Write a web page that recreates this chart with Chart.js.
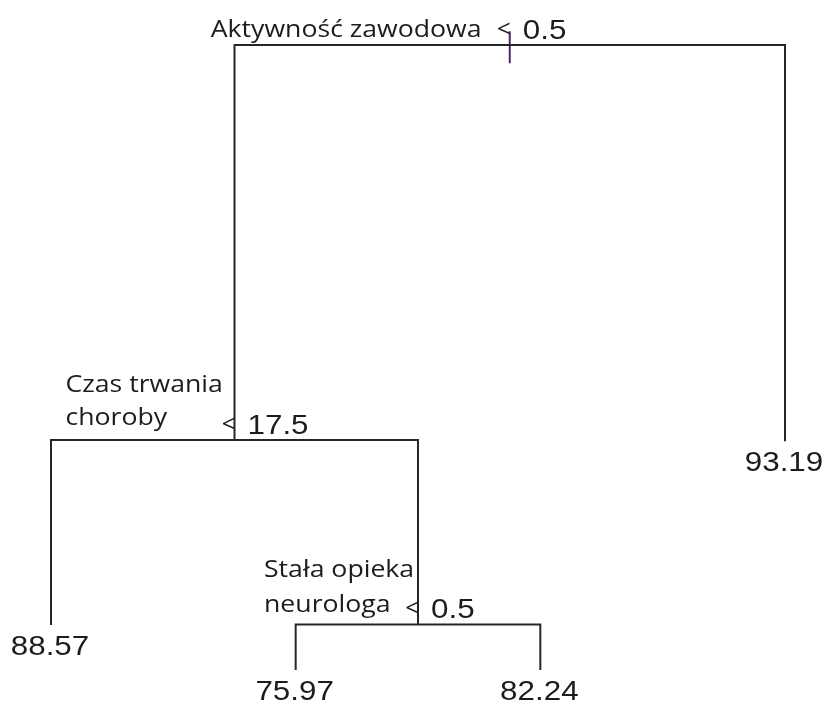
<!DOCTYPE html>
<html>
<head>
<meta charset="utf-8">
<script src="https://cdn.jsdelivr.net/npm/chart.js@4/dist/chart.umd.min.js"></script>
<style>
  html, body { margin: 0; padding: 0; background: #fff; }
  #wrap { width: 827px; height: 704px; position: relative; }
</style>
</head>
<body>
<div id="wrap"><canvas id="tree"></canvas></div>
<script>
// regression tree: splits and leaves
var splitLabels = [['Aktywność zawodowa'], ['Czas trwania', 'choroby'], ['Stała opieka', 'neurologa']];
var splitThresholds = ['0.5', '17.5', '0.5'];
var splitDepth = [0, 0.632, 0.927];
// children: 's' + n = split n, 'l' + n = leaf n
var splitLeft = ['s1', 'l0', 'l1'];
var splitRight = ['l3', 's2', 'l2'];

var leafLabels = ['88.57', '75.97', '82.24', '93.19'];
var leafDepth = [0.928, 1.0, 1.0, 0.634];

// x of a node: leaves are 1..n, a split sits at the mean of its children
function nodeX(id) {
  var n = parseInt(id.slice(1));
  if (id[0] == 'l') return n + 1;
  return (nodeX(splitLeft[n]) + nodeX(splitRight[n])) / 2;
};
function nodeY(id) {
  var n = parseInt(id.slice(1));
  return id[0] == 'l' ? leafDepth[n] : splitDepth[n];
};

var datasets = [];
splitLabels.forEach(function(lbl, i) {
  var l = splitLeft[i], r = splitRight[i];
  datasets.push({
    data: [
      {x: nodeX(l), y: nodeY(l)},
      {x: nodeX(l), y: splitDepth[i]},
      {x: nodeX(r), y: splitDepth[i]},
      {x: nodeX(r), y: nodeY(r)}
    ],
    borderColor: '#262626',
    borderWidth: 2,
    pointRadius: 0,
    clip: false
  });
});
// little stem on the root
datasets.push({
  data: [{x: nodeX('s0'), y: -0.022}, {x: nodeX('s0'), y: 0.029}],
  borderColor: '#4a2a6a',
  borderWidth: 2,
  pointRadius: 0,
  clip: false
});

function stretchText(ctx, text, x, y, sx, align) {
  ctx.save();
  ctx.translate(x, y);
  ctx.scale(sx, 1);
  ctx.textAlign = align;
  ctx.fillText(text, 0, 0);
  ctx.restore();
}

var treeLabels = {
  id: 'treeLabels',
  afterDatasetsDraw: function(chart) {
    var ctx = chart.ctx;
    var xs = chart.scales.x, ys = chart.scales.y;
    ctx.save();
    ctx.fillStyle = '#1c1c1c';
    ctx.textBaseline = 'alphabetic';

    // where the wrapped labels start, relative to the split
    var labelPlace = [
      {dx: -299, base: [-8]},
      {dx: -169, base: [-48, -15]},
      {dx: -154, base: [-47, -12]}
    ];

    splitLabels.forEach(function(lines, i) {
      var px = xs.getPixelForValue(nodeX('s' + i));
      var py = ys.getPixelForValue(splitDepth[i]);
      var p = labelPlace[i];
      ctx.font = '24px "Open Sans"';
      lines.forEach(function(line, k) {
        stretchText(ctx, line, px + p.dx, py + p.base[k], 1.11, 'left');
      });
      stretchText(ctx, '<', px - 6, py - 8, 1, 'center');
      ctx.font = '28px "Liberation Sans"';
      stretchText(ctx, splitThresholds[i], px + 13, py - 6, 1.12, 'left');
    });

    ctx.font = '28px "Liberation Sans"';
    leafLabels.forEach(function(lbl, i) {
      var px = xs.getPixelForValue(nodeX('l' + i));
      var py = ys.getPixelForValue(leafDepth[i]);
      stretchText(ctx, lbl, px - 1, py + 30, 1.12, 'center');
    });
    ctx.restore();
  }
};

var ctx = document.getElementById('tree').getContext('2d');
var treeChart = new Chart(ctx, {
  type: 'line',
  data: { datasets: datasets },
  options: {
    responsive: true,
    maintainAspectRatio: false,
    animation: false,
    layout: { padding: { left: 51, right: 42, top: 45, bottom: 34 } },
    scales: {
      x: { type: 'linear', min: 1, max: 4, display: false },
      y: { type: 'linear', min: 0, max: 1, reverse: true, display: false }
    },
    plugins: {
      legend: { display: false },
      tooltip: { enabled: false }
    }
  },
  plugins: [treeLabels]
});
</script>
</body>
</html>
